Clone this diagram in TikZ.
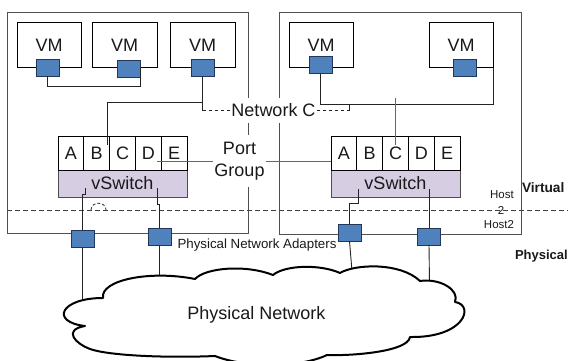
\documentclass[tikz,border=0pt]{standalone}
\usepackage{fontspec}
\setmainfont{Liberation Sans}
\definecolor{nicblue}{RGB}{79,129,189}
\definecolor{nicedge}{RGB}{35,55,90}
\definecolor{swfill}{RGB}{214,205,226}
\definecolor{hostedge}{RGB}{80,80,80}
\definecolor{wirecol}{RGB}{35,35,35}
\newcommand{\setfs}[2]{\fontsize{#1}{#2}\selectfont}
\begin{document}
\begin{tikzpicture}[x=1pt,y=-1pt,
  every node/.style={inner sep=0pt,outer sep=0pt,text=black!90},
  hostbox/.style={draw=hostedge,line width=1pt},
  vmbox/.style={draw=black,fill=white,line width=1pt,minimum width=64pt,minimum height=45pt,font=\setfs{18}{22}},
  nicbox/.style={draw=nicedge,fill=nicblue,line width=1pt,minimum width=23pt,minimum height=17pt},
  portcell/.style={draw=black,fill=white,line width=0.8pt,minimum width=25.8pt,minimum height=34pt,font=\setfs{18}{22}},
  switchbar/.style={draw=black!70,fill=swfill,line width=0.8pt,minimum width=129pt,minimum height=27pt,font=\setfs{18}{22}},
  wire/.style={draw=wirecol,line width=0.9pt},
  greywire/.style={draw=black!60,line width=0.9pt},
  netdash/.style={draw=wirecol,line width=0.9pt,dash pattern=on 3.5pt off 2.5pt},
  planeline/.style={draw=black!75,line width=0.9pt,dash pattern=on 5pt off 3pt},
  textlabel/.style={fill=white,font=\setfs{18}{22}},
]
\useasboundingbox (0,0) rectangle (568,361);

% ---- host boundaries ----
\node[hostbox,minimum width=241pt,minimum height=220pt] (host1) at (127.5,123) {};
\node[hostbox,minimum width=242pt,minimum height=221pt] (host2) at (400,123.5) {};

% ---- virtual / physical boundary ----
\draw[planeline] (7,210) -- (568,210);
\draw[planeline,dash pattern=on 3pt off 2pt] (91,210) .. controls (91,201) and (106,201) .. (106,210);

% ---- virtual machines ----
\node[vmbox] (vm1) at (49,45.5) {VM};
\node[vmbox,minimum width=65pt] (vm2) at (124.5,45.5) {VM};
\node[vmbox,minimum width=65pt] (vm3) at (202.5,45.5) {VM};
\node[vmbox] (vm4) at (321,45.5) {VM};
\node[vmbox] (vm5) at (461,45.5) {VM};

% ---- virtual NICs ----
\node[nicbox] (nic1) at (47.5,68) {};
\node[nicbox] (nic2) at (129,69) {};
\node[nicbox] (nic3) at (202.5,68.5) {};
\node[nicbox] (nic4) at (320.5,65.5) {};
\node[nicbox] (nic5) at (465,68.5) {};

% ---- vSwitches with their ports ----
\node[switchbar] (sw1) at (122.5,183.5) {vSwitch};
\node[switchbar] (sw2) at (395.5,183.5) {vSwitch};
\foreach \l [count=\i from 0] in {A,B,C,D,E}{
  \node[portcell] (p\l1) at (70.9+25.8*\i,153) {\l};
  \node[portcell] (p\l2) at (343.9+25.8*\i,153) {\l};
}

% ---- labels that break the host outlines ----
\node[textlabel,minimum height=25pt,inner xsep=1pt] (netC) at (273.5,110.5) {Network C};
\node[textlabel,align=center,minimum height=52pt,inner xsep=1pt] (pg) at (239.5,161) {Port\\Group};

% ---- host 1 virtual wiring ----
\draw[wire] (nic1.south) -- ++(0,10) -| (nic2.east |- vm2.south);
\path (nic3.south) ++(0,25) coordinate (j1);
\draw[wire] (nic3.south) -- (nic3.south |- netC.west);
\draw[wire] (j1) -| ([xshift=11pt,yshift=-9pt]pB1.north);
\draw[netdash] (nic3.south |- netC.west) -- (netC.west);

% ---- host 2 virtual wiring ----
\draw[wire] (nic4.south) -- ++(0,30) -| (vm5.south east);
\draw[netdash] (netC.east) -- ++(33,0) coordinate (r2);
\draw[wire] (r2) -- ++(0,-6);
\draw[greywire] ([yshift=38pt]pC2.north) -- ([yshift=-9pt]pC2.north);

% ---- port group link ----
\draw[greywire] ([xshift=8.5pt,yshift=-8pt]pD1.center) -- (pg.west);
\draw[greywire] (pg.east) -- (pg.east -| pA2.west);

% ---- physical adapters ----
\node[nicbox] (pn1) at (82.5,238.5) {};
\node[nicbox] (pn2) at (159.5,236.5) {};
\node[nicbox] (pn3) at (349.5,232.5) {};
\node[nicbox] (pn4) at (429,236.5) {};

\draw[wire] ([xshift=-37.5pt,yshift=-4.5pt]sw1.center) -- ++(0,6) -| (pn1.north);
\draw[wire] ([xshift=34.5pt,yshift=-4.5pt]sw1.center) -- ++(0,16) -| (pn2.north);
\draw[wire] ([xshift=-37.5pt,yshift=-5.5pt]sw2.center) -- ++(0,14) -| (pn3.north);
\draw[wire] ([xshift=33.5pt,yshift=-5.5pt]sw2.center) -- (pn4.north);

\coordinate (c1) at (82.5,303);
\coordinate (c2) at (159.5,279);
\coordinate (c3) at (352,271);
\coordinate (c4) at (429.5,283);
\draw[wire] (pn1.south) -- (c1);
\draw[wire] (pn2.south) -- (c2);
\draw[wire] (pn3.south) -- (c3);
\draw[wire] (pn4.south) -- (c4);

% ---- physical network cloud ----
\draw[line width=2pt,fill=white,line join=round]
  (103,298) .. controls (100,280) and (150,270) .. (195,279)
  .. controls (205,268) and (245,264) .. (273,275)
  .. controls (285,265) and (320,264) .. (340,273)
  .. controls (355,264) and (400,262) .. (420,281)
  .. controls (440,278) and (460,290) .. (455,302)
  .. controls (475,305) and (465,338) .. (410,337)
  .. controls (408,352) and (350,356) .. (327,355)
  .. controls (300,368) and (245,368) .. (215,356)
  .. controls (170,358) and (110,356) .. (90,349)
  .. controls (76,344) and (62,330) .. (85,326)
  .. controls (50,322) and (60,298) .. (103,298) -- cycle;
\node[font=\setfs{18}{22}] (pnet) at (256.5,315) {Physical Network};

% ---- text labels ----
\node[font=\setfs{13.3}{16}] (pna) at (257,245) {Physical Network Adapters};
\node[anchor=west,font=\bfseries\setfs{13.7}{16}] (virt) at (522,188) {Virtual};
\node[anchor=west,font=\bfseries\setfs{13}{16}] (phys) at (515,256.5) {Physical};
\node[font=\setfs{11.5}{14}] (hA) at (502,195) {Host};
\node[font=\setfs{11.5}{14}] (hB) at (501,210) {2};
\node[font=\setfs{11.5}{14}] (hC) at (499,225) {Host2};
\end{tikzpicture}
\end{document}
